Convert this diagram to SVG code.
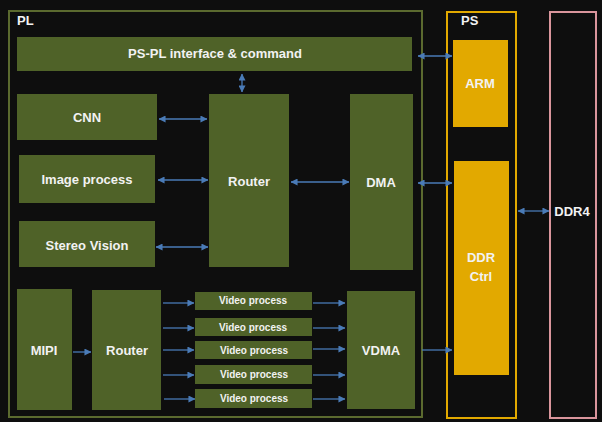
<svg xmlns="http://www.w3.org/2000/svg" width="602" height="422" viewBox="0 0 602 422">
<defs>
<style>
.bg{fill:#0e0e0e}
.blk{fill:#4f6228}
.ps{fill:#e2a900}
.t{font-family:"Liberation Sans",Arial,sans-serif;font-weight:bold;fill:#f2f2f2;text-anchor:middle;font-size:13px}
.tv{font-size:10px}
.lbl{text-anchor:start}
.c{stroke:#4a7bb7;stroke-width:1.3;fill:none}
</style>
<marker id="ah" viewBox="0 0 8 8" refX="7.5" refY="4" markerWidth="7" markerHeight="7" markerUnits="userSpaceOnUse" orient="auto-start-reverse">
<path d="M0,0 L8,4 L0,8 z" fill="#4a7bb7"/>
</marker>
</defs>
<rect class="bg" x="0" y="0" width="602" height="422"/>

<g id="PL">
<rect x="9" y="11" width="413" height="406" fill="none" stroke="#5b6a2f" stroke-width="2"/>
<text class="t lbl" x="17" y="25">PL</text>
</g>
<g id="PS">
<rect x="447" y="12" width="69" height="406" fill="none" stroke="#e2a900" stroke-width="2"/>
<text class="t lbl" x="461" y="25">PS</text>
</g>
<g id="DDR4">
<rect x="550" y="12" width="46" height="406" fill="none" stroke="#d9959c" stroke-width="2"/>
<text class="t" x="572" y="216">DDR4</text>
</g>

<g id="pspl"><rect class="blk" x="17" y="37" width="395" height="34"/><text class="t" x="215" y="58">PS-PL interface &amp; command</text></g>
<g id="cnn"><rect class="blk" x="17" y="94" width="140" height="46"/><text class="t" x="87" y="122">CNN</text></g>
<g id="router1"><rect class="blk" x="209" y="94" width="80" height="173"/><text class="t" x="249" y="186">Router</text></g>
<g id="imgproc"><rect class="blk" x="19" y="155" width="136" height="48"/><text class="t" x="87" y="184">Image process</text></g>
<g id="stereo"><rect class="blk" x="19" y="221" width="136" height="46"/><text class="t" x="87" y="250">Stereo Vision</text></g>
<g id="dma"><rect class="blk" x="350" y="94" width="63" height="176"/><text class="t" x="381" y="187">DMA</text></g>
<g id="arm"><rect class="ps" x="453" y="40" width="55" height="87"/><text class="t" x="480" y="88">ARM</text></g>
<g id="ddrctrl"><rect class="ps" x="454" y="161" width="55" height="214"/><text class="t" x="481" y="262">DDR</text><text class="t" x="481" y="281">Ctrl</text></g>
<g id="mipi"><rect class="blk" x="17" y="289" width="55" height="121"/><text class="t" x="44" y="355">MIPI</text></g>
<g id="router2"><rect class="blk" x="92" y="290" width="69" height="120"/><text class="t" x="127" y="355">Router</text></g>
<g id="vp1"><rect class="blk" x="195" y="292" width="117" height="18"/><text class="t tv" x="253" y="304">Video process</text></g>
<g id="vp2"><rect class="blk" x="195" y="318" width="117" height="18"/><text class="t tv" x="253" y="331">Video process</text></g>
<g id="vp3"><rect class="blk" x="195" y="341" width="117" height="18"/><text class="t tv" x="254" y="354">Video process</text></g>
<g id="vp4"><rect class="blk" x="195" y="365" width="117" height="19"/><text class="t tv" x="254" y="378">Video process</text></g>
<g id="vp5"><rect class="blk" x="195" y="389" width="117" height="19"/><text class="t tv" x="254" y="402">Video process</text></g>
<g id="vdma"><rect class="blk" x="347" y="291" width="68" height="118"/><text class="t" x="381" y="355">VDMA</text></g>

<g id="connectors" class="c">
<line x1="242" y1="74" x2="242" y2="92" marker-start="url(#ah)" marker-end="url(#ah)"/>
<line x1="159" y1="119" x2="207" y2="119" marker-start="url(#ah)" marker-end="url(#ah)"/>
<line x1="158" y1="180" x2="208" y2="180" marker-start="url(#ah)" marker-end="url(#ah)"/>
<line x1="156" y1="247" x2="208" y2="247" marker-start="url(#ah)" marker-end="url(#ah)"/>
<line x1="291" y1="182" x2="349" y2="182" marker-start="url(#ah)" marker-end="url(#ah)"/>
<line x1="418" y1="183" x2="452" y2="183" marker-start="url(#ah)" marker-end="url(#ah)"/>
<line x1="418" y1="56" x2="452" y2="56" marker-start="url(#ah)" marker-end="url(#ah)"/>
<line x1="518" y1="211" x2="549" y2="211" marker-start="url(#ah)" marker-end="url(#ah)"/>
<line x1="73" y1="352" x2="91" y2="352" marker-end="url(#ah)"/>
<line x1="163" y1="303" x2="194" y2="303" marker-end="url(#ah)"/>
<line x1="163" y1="328" x2="194" y2="328" marker-end="url(#ah)"/>
<line x1="163" y1="350" x2="194" y2="350" marker-end="url(#ah)"/>
<line x1="163" y1="375" x2="194" y2="375" marker-end="url(#ah)"/>
<line x1="164" y1="399" x2="195" y2="399" marker-end="url(#ah)"/>
<line x1="313" y1="303" x2="345" y2="303" marker-end="url(#ah)"/>
<line x1="313" y1="328" x2="345" y2="328" marker-end="url(#ah)"/>
<line x1="313" y1="349" x2="345" y2="349" marker-end="url(#ah)"/>
<line x1="313" y1="375" x2="345" y2="375" marker-end="url(#ah)"/>
<line x1="313" y1="399" x2="345" y2="399" marker-end="url(#ah)"/>
<line x1="422" y1="350" x2="452" y2="350" marker-end="url(#ah)"/>
</g>
</svg>
